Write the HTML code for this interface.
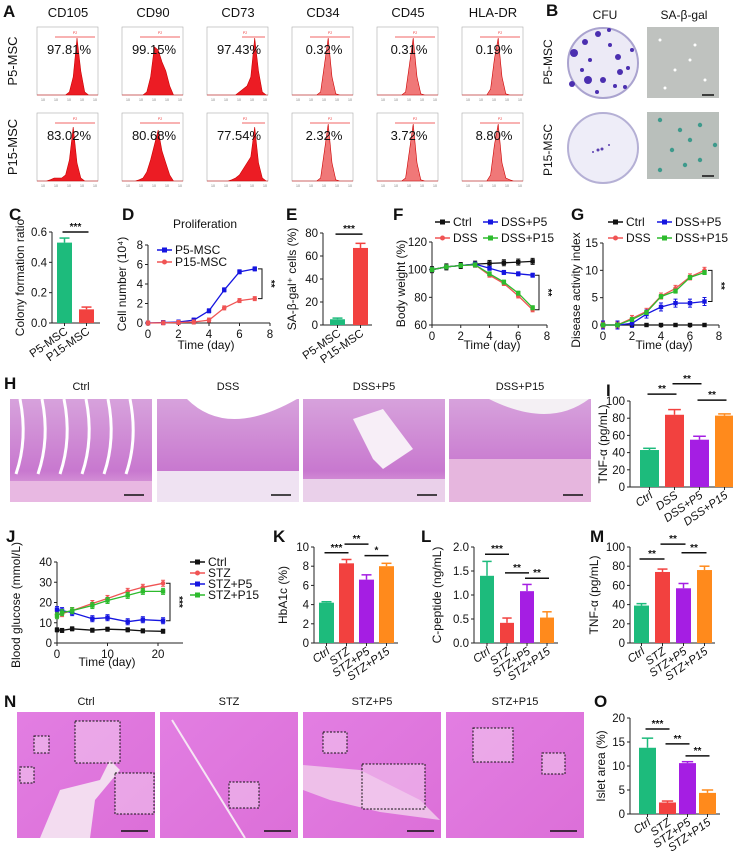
<!DOCTYPE html>
<html><head><meta charset="utf-8"><style>
html,body{margin:0;padding:0;background:#fff;width:733px;height:859px;overflow:hidden}
svg{display:block;font-family:"Liberation Sans",sans-serif}
</style></head><body>
<svg id="fig" width="733" height="859" viewBox="0 0 733 859" xmlns="http://www.w3.org/2000/svg">
<defs>
<linearGradient id="hgr" x1="0" y1="0" x2="0" y2="1"><stop offset="0" stop-color="#d7a2dc"/><stop offset="0.7" stop-color="#c878cf"/><stop offset="1" stop-color="#e7b8e2"/></linearGradient>
<linearGradient id="ngr" x1="0" y1="0" x2="1" y2="1"><stop offset="0" stop-color="#e27ee2"/><stop offset="1" stop-color="#dc6fd8"/></linearGradient>
</defs>
</svg>
<script>
// ---------- data ----------
const flowMarkers = ['CD105','CD90','CD73','CD34','CD45','HLA-DR'];
const flowP5 = ['97.81%','99.15%','97.43%','0.32%','0.31%','0.19%'];
const flowP15 = ['83.02%','80.68%','77.54%','2.32%','3.72%','8.80%'];
const histP5 = [
 [0,0,0,0,0,0,0,0,0.05,0.3,0.95,0.4,0.05,0,0,0],
 [0,0,0,0,0,0,0.05,0.3,0.8,0.75,0.55,0.4,0.15,0,0,0],
 [0,0,0,0,0,0,0,0,0.05,0.1,0.15,0.3,0.95,0.4,0.05,0],
 [0,0,0,0,0,0,0,0.05,0.5,0.95,0.3,0.02,0,0,0,0],
 [0,0,0,0,0,0,0,0.05,0.5,0.95,0.3,0.02,0,0,0,0],
 [0,0,0,0,0,0,0,0.1,0.6,0.95,0.3,0.02,0,0,0,0]];
const histP15 = [
 [0,0,0,0.02,0.05,0.05,0.05,0.1,0.35,0.9,0.3,0.05,0,0,0,0],
 [0,0,0,0,0.02,0.05,0.15,0.35,0.6,0.85,0.5,0.3,0.1,0,0,0],
 [0,0,0,0,0,0,0.02,0.05,0.1,0.2,0.3,0.4,0.9,0.3,0.05,0],
 [0,0,0,0,0,0,0,0.05,0.5,0.95,0.3,0.02,0,0,0,0],
 [0,0,0,0,0,0,0,0.05,0.5,0.95,0.3,0.02,0,0,0,0],
 [0,0,0,0,0,0,0,0.1,0.6,0.95,0.3,0.05,0.02,0,0,0]];

const cLabels = ['P5-MSC','P15-MSC'];
const cValues = [0.53,0.09];
const cErrs = [0.03,0.015];
const cTicks = [0,0.2,0.4,0.6];

const eValues = [5,67];
const eErrs = [1,4];
const eTicks = [0,20,40,60,80];

const dDays = [0,1,2,3,4,5,6,7];
const dP5 = [0,0.05,0.1,0.3,1.25,3.4,5.25,5.55];
const dP15 = [0,0.02,0.05,0.1,0.3,1.55,2.3,2.5];
const dTicksY = [0,2,4,6,8];
const dTicksX = [0,2,4,6,8];

const fDays = [0,1,2,3,4,5,6,7];
const fCtrl = [100,102,103,104,104.5,105,105.5,106];
const fDSS = [100,102,103,103.5,96,90,81,71];
const fP5 = [100,102,103,104,101,98,97,96];
const fP15 = [100,102,103,103.5,97,91,83,72.5];
const fTicksY = [60,80,100,120];

const gDays = [0,1,2,3,4,5,6,7];
const gCtrl = [0,0,0,0,0,0,0,0];
const gDSS = [0,0,1.2,2.5,5.3,6.7,8.8,10];
const gP5 = [0,0,0.3,2,3.3,4,4,4.3];
const gP15 = [0,0,1,2.3,5.2,6.2,8.7,9.6];
const gTicksY = [0,5,10,15];

const dssLabels = ['Ctrl','DSS','DSS+P5','DSS+P15'];
const iValues = [43,84,55,83];
const iErrs = [2,6,4,2];
const tnfTicks = [0,20,40,60,80,100];

const jDays = [0,1,3,7,10,14,17,21];
const jCtrl = [6.5,6.2,7,6.3,6.8,6.5,6,5.8];
const jSTZ = [14,14.5,16,19.5,22,25.5,27.5,29.5];
const jP5 = [16.5,16,15,12,12.5,10.5,11.5,11];
const jP15 = [13.5,15,16,18.5,21,23.5,25.5,25.5];
const jTicksY = [0,10,20,30,40];
const jTicksX = [0,10,20];

const stzLabels = ['Ctrl','STZ','STZ+P5','STZ+P15'];
const kValues = [4.2,8.3,6.6,8.0];
const kErrs = [0.1,0.4,0.5,0.3];
const kTicks = [0,2,4,6,8,10];
const lValues = [1.4,0.42,1.08,0.53];
const lErrs = [0.3,0.1,0.14,0.12];
const lTicks = [0,0.5,1.0,1.5,2.0];
const mValues = [39,74,57,76];
const mErrs = [2,3,5,4];
const oValues = [13.8,2.4,10.6,4.4];
const oErrs = [2,0.3,0.3,0.6];
const oTicks = [0,5,10,15,20];

// ---------- helpers ----------
const NS='http://www.w3.org/2000/svg';
const svg=document.getElementById('fig');
const GREEN='#1dbb7c',RED='#f2413f',PURPLE='#a51ee3',ORANGE='#ff8a1c',BLUE='#1515e0',LGREEN='#2dbb2d',LRED='#f05454';
function mk(tag,attrs,parent){const e=document.createElementNS(NS,tag);for(const k in attrs)e.setAttribute(k,attrs[k]);(parent||svg).appendChild(e);return e;}
function txt(x,y,s,size,attrs,parent){const a=Object.assign({x:x,y:y,'font-size':size,fill:'#111'},attrs||{});const t=mk('text',a,parent);t.textContent=s;return t;}
function group(name){const g=mk('g',{});

return g;}
function panelLetter(g,ch,x,y){const t=txt(x,y,ch,17,{'font-weight':'bold'},g);

}
function fmt(v){return (Math.round(v*10)/10).toString();}

function yAxis(g,ax,yTop,yBot,min,max,ticks,dec){
  const Y=v=>yBot-(v-min)/(max-min)*(yBot-yTop);
  const l=mk('line',{x1:ax,y1:Y(ticks[ticks.length-1]),x2:ax,y2:yBot,stroke:'#222','stroke-width':1},g);
  
  
  ticks.forEach(v=>{
    mk('line',{x1:ax-3,y1:Y(v),x2:ax,y2:Y(v),stroke:'#222'},g);
    const t=txt(ax-5,Y(v)+4,dec!==undefined?v.toFixed(dec):String(v),11.5,{'text-anchor':'end'},g);
    
    
  });
  return Y;
}
function yTitle(g,x,y,s){const t=txt(x,y,s,12,{'text-anchor':'middle',transform:'rotate(-90 '+x+' '+y+')'},g);


return t;}

function barChart(name,cfg){
  const g=group(name);
  panelLetter(g,cfg.letter,cfg.lx,cfg.ly);
  const Y=yAxis(g,cfg.ax,cfg.yTop,cfg.yBot,cfg.min,cfg.max,cfg.ticks,cfg.dec);
  const xa=mk('line',{x1:cfg.ax,y1:cfg.yBot,x2:cfg.axEnd,y2:cfg.yBot,stroke:'#222'},g);
  
  
  yTitle(g,cfg.ytx,(cfg.yTop+cfg.yBot)/2,cfg.ytitle);
  cfg.values.forEach((v,i)=>{
    const cx=cfg.c0+i*cfg.step, col=cfg.colors[i];
    const r=mk('rect',{x:cx-cfg.bw/2,y:Y(v),width:cfg.bw,height:cfg.yBot-Y(v),fill:col},g);
    
    
    const e=Y(v+cfg.errs[i]);
    mk('line',{x1:cx,y1:Y(v),x2:cx,y2:e,stroke:col,'stroke-width':1.5},g);
    mk('line',{x1:cx-cfg.bw/3,y1:e,x2:cx+cfg.bw/3,y2:e,stroke:col,'stroke-width':1.5},g);
    mk('line',{x1:cx,y1:cfg.yBot,x2:cx,y2:cfg.yBot+3,stroke:'#222'},g);
    const lx=cx+4, ly=cfg.yBot+10;
    const t=txt(lx,ly,cfg.labels[i],11.5,{'text-anchor':'end',transform:'rotate(-35 '+lx+' '+ly+')','font-style':cfg.italic?'italic':'normal'},g);
    
    
  });
  (cfg.sigs||[]).forEach(s=>{
    const x1=cfg.c0+s[0]*cfg.step-2,x2=cfg.c0+s[1]*cfg.step+2,yy=Y(s[2]);
    const l=mk('line',{x1:x1,y1:yy,x2:x2,y2:yy,stroke:'#111','stroke-width':1.5},g);
    
    
    txt((x1+x2)/2,yy-2,s[3],10,{'text-anchor':'middle','font-weight':'bold'},g);
  });
}

function lineChart(name,cfg){
  const g=group(name);
  panelLetter(g,cfg.letter,cfg.lx,cfg.ly);
  const Y=yAxis(g,cfg.ax,cfg.yTop,cfg.yBot,cfg.ymin,cfg.ymax,cfg.yticks);
  const X=v=>cfg.ax+(v-cfg.xmin)/(cfg.xmax-cfg.xmin)*(cfg.axEnd-cfg.ax);
  const xa=mk('line',{x1:cfg.ax,y1:cfg.yBot,x2:cfg.xEndPx||cfg.axEnd,y2:cfg.yBot,stroke:'#222'},g);
  
  
  cfg.xticks.forEach(v=>{
    mk('line',{x1:X(v),y1:cfg.yBot,x2:X(v),y2:cfg.yBot+3,stroke:'#222'},g);
    const t=txt(X(v),cfg.yBot+15,String(v),11.5,{'text-anchor':'middle'},g);
    
    
  });
  const xt=txt(cfg.xtx,cfg.xty,'Time (day)',12,{'text-anchor':'middle'},g);
  
  
  yTitle(g,cfg.ytx,cfg.yty||(cfg.yTop+cfg.yBot)/2,cfg.ytitle);
  cfg.series.forEach(s=>{
    const pts=cfg.xs.map((d,i)=>X(d).toFixed(1)+','+Y(s.vals[i]).toFixed(1)).join(' ');
    const pl=mk('polyline',{points:pts,fill:'none',stroke:s.color,'stroke-width':1.3},g);
    
    
    cfg.xs.forEach((d,i)=>{
      const px=X(d),py=Y(s.vals[i]),er=(s.err||0);
      if(er){mk('line',{x1:px,y1:py-er,x2:px,y2:py+er,stroke:s.color},g);
        mk('line',{x1:px-2,y1:py-er,x2:px+2,y2:py-er,stroke:s.color},g);
        mk('line',{x1:px-2,y1:py+er,x2:px+2,y2:py+er,stroke:s.color},g);}
      const m=s.shape==='circle'?mk('circle',{cx:px,cy:py,r:2.3,fill:s.color},g):mk('rect',{x:px-2.2,y:py-2.2,width:4.4,height:4.4,fill:s.color},g);
      
      
    });
  });
  cfg.legend.forEach(L=>{
    mk('line',{x1:L[0],y1:L[1],x2:L[0]+15,y2:L[1],stroke:L[3],'stroke-width':1.5},g);
    if(L[4]==='circle')mk('circle',{cx:L[0]+7.5,cy:L[1],r:2.5,fill:L[3]},g);else mk('rect',{x:L[0]+5,y:L[1]-2.5,width:5,height:5,fill:L[3]},g);
    const t=txt(L[0]+18,L[1]+4,L[2],12,{},g);
    
    
  });
  if(cfg.bracket){const b=cfg.bracket,y1=Y(b[1]),y2=Y(b[2]);
    const p=mk('path',{d:'M'+(b[0]-4)+' '+y1+'H'+b[0]+'V'+y2+'H'+(b[0]-4),fill:'none',stroke:'#111'},g);
    
    
    const sx=b[0]+6,sy=(y1+y2)/2;
    txt(sx,sy,b[3],10,{'text-anchor':'middle','font-weight':'bold',transform:'rotate(90 '+sx+' '+sy+')'},g);}
}

// ---------- Panel A ----------
(function(){
  const g=group('panel-a-flow-cytometry');
  panelLetter(g,'A',3,17);
  [['P5-MSC',61],['P15-MSC',147]].forEach(r=>{const t=txt(17,r[1],r[0],13,{'text-anchor':'middle',transform:'rotate(-90 17 '+r[1]+')'},g);
    
    });
  flowMarkers.forEach((mName,c)=>{
    const bx=37+c*85;
    const t=txt(bx+31,17,mName,13,{'text-anchor':'middle'},g);
    
    
    [[27,histP5[c],flowP5[c]],[113,histP15[c],flowP15[c]]].forEach(row=>{
      const by=row[0],w=61,h=68;
      mk('rect',{x:bx,y:by,width:w,height:h,fill:'#fff',stroke:'#aaa','stroke-width':0.6},g);
      const hist=row[1];const n=hist.length;
      let d='M'+bx+' '+(by+h);
      hist.forEach((v,i)=>{d+=' L'+(bx+(i+0.5)*w/n).toFixed(1)+' '+(by+h-v*(h-8)).toFixed(1);});
      d+=' L'+(bx+w)+' '+(by+h)+'Z';
      const p=mk('path',{d:d,fill:c>=3?'#f07878':'#ec1c24',stroke:'#c00','stroke-width':0.6},g);
      
      
      mk('line',{x1:bx+(c===2?35:18),y1:by+10,x2:bx+58,y2:by+10,stroke:'#e33','stroke-width':0.7},g);
      txt(bx+38,by+7,'P2',3.5,{fill:'#e33','text-anchor':'middle'},g);
      const pt=txt(bx+32,by+27,row[2],13,{'text-anchor':'middle'},g);
      
      
      for(let k=0;k<5;k++)txt(bx+4+k*13,by+h+6,'10',3.5,{fill:'#777'},g);
    });
  });
})();

// ---------- Panel B ----------
(function(){
  const g=group('panel-b-cfu-senescence');
  panelLetter(g,'B',546,16);
  txt(605,19,'CFU',12,{'text-anchor':'middle'},g);
  txt(684,19,'SA-β-gal',12,{'text-anchor':'middle'},g);
  [['P5-MSC',62],['P15-MSC',150]].forEach(r=>{txt(552,r[1],r[0],12,{'text-anchor':'middle',transform:'rotate(-90 552 '+r[1]+')'},g);});
  const d1=mk('circle',{cx:603,cy:63,r:35,fill:'#eceaf6',stroke:'#aaa3cf','stroke-width':2},g);
  
  
  [[598,34,3],[609,30,2],[585,42,3],[574,53,4],[590,60,2],[610,45,2],[618,57,3],[628,68,2],[620,72,3],[588,80,4],[572,84,3],[603,80,3],[615,86,2],[632,50,2],[582,70,2],[597,92,2],[625,87,2]].forEach(p=>mk('circle',{cx:p[0],cy:p[1],r:p[2],fill:'#4b2fb0'},g));
  const d2=mk('circle',{cx:603,cy:148,r:35,fill:'#eeedf8',stroke:'#b5b0d5','stroke-width':2},g);
  
  
  [[598,150,1.5],[602,149,1.5],[593,152,1],[609,145,1]].forEach(p=>mk('circle',{cx:p[0],cy:p[1],r:p[2],fill:'#5b3fb0'},g));
  const i1=mk('rect',{x:647,y:27,width:72,height:71,fill:'#bfc2bf'},g);
  
  
  [[660,40],[695,45],[675,70],[705,80],[665,88],[690,60]].forEach(p=>mk('circle',{cx:p[0],cy:p[1],r:1.5,fill:'#fff'},g));
  mk('line',{x1:702,y1:95,x2:714,y2:95,stroke:'#111','stroke-width':1.5},g);
  const i2=mk('rect',{x:647,y:112,width:72,height:67,fill:'#b9bfbb'},g);
  
  
  [[660,120],[680,130],[690,140],[700,125],[672,150],[700,160],[660,170],[715,145],[685,165]].forEach(p=>mk('circle',{cx:p[0],cy:p[1],r:2.2,fill:'#3e9a8c'},g));
  mk('line',{x1:702,y1:176,x2:714,y2:176,stroke:'#111','stroke-width':1.5},g);
})();

// ---------- Row C-G ----------
barChart('panel-c-colony-formation',{letter:'C',lx:9,ly:220,ax:52,axEnd:100,yTop:232,yBot:323,min:0,max:0.6,ticks:cTicks,dec:1,
  values:cValues,errs:cErrs,colors:[GREEN,RED],c0:64.5,step:22,bw:15,labels:cLabels,ytitle:'Colony formation ratio',ytx:24,sigs:[[0,1,0.6,'***']]});
lineChart('panel-d-proliferation',{letter:'D',lx:122,ly:220,ax:148,axEnd:270,xmin:0,xmax:8,yTop:245,yBot:323,ymin:0,ymax:8,yticks:dTicksY,xticks:dTicksX,
  xs:dDays,series:[{name:'p5-msc',vals:dP5,color:BLUE,shape:'sq',err:2},{name:'p15-msc',vals:dP15,color:LRED,shape:'circle',err:2}],
  legend:[[157,250,'P5-MSC',BLUE,'sq'],[157,262,'P15-MSC',LRED,'circle']],ytitle:'Cell number (10⁴)',ytx:126,xtx:206,xty:349,bracket:[262,5.55,2.5,'**']});
txt(205,228,'Proliferation',12,{'text-anchor':'middle'});
barChart('panel-e-sa-beta-gal',{letter:'E',lx:286,ly:220,ax:323,axEnd:372,yTop:233,yBot:325,min:0,max:80,ticks:eTicks,
  values:eValues,errs:eErrs,colors:[GREEN,RED],c0:337.5,step:23,bw:15,labels:cLabels,ytitle:'SA-β-gal⁺ cells (%)',ytx:296,sigs:[[0,1,79,'***']]});
lineChart('panel-f-body-weight',{letter:'F',lx:393,ly:220,ax:432,axEnd:547,xmin:0,xmax:8,yTop:242,yBot:325,ymin:60,ymax:120,yticks:fTicksY,xticks:dTicksX,
  xs:fDays,series:[{name:'ctrl',vals:fCtrl,color:'#111',shape:'sq',err:3},{name:'dss',vals:fDSS,color:LRED,shape:'circle',err:2},{name:'dss-p5',vals:fP5,color:BLUE,shape:'sq',err:2},{name:'dss-p15',vals:fP15,color:LGREEN,shape:'sq',err:2}],
  legend:[[435,222,'Ctrl','#111','sq'],[483,222,'DSS+P5',BLUE,'sq'],[435,238,'DSS',LRED,'circle'],[483,238,'DSS+P15',LGREEN,'sq']],ytitle:'Body weight (%)',ytx:405,xtx:492,xty:349,bracket:[539,96,71,'**']});
lineChart('panel-g-disease-activity',{letter:'G',lx:571,ly:220,ax:603,axEnd:719,xmin:0,xmax:8,yTop:243,yBot:325,ymin:0,ymax:15,yticks:gTicksY,xticks:dTicksX,
  xs:gDays,series:[{name:'ctrl',vals:gCtrl,color:'#111',shape:'sq',err:0},{name:'dss',vals:gDSS,color:LRED,shape:'circle',err:3},{name:'dss-p5',vals:gP5,color:BLUE,shape:'sq',err:4},{name:'dss-p15',vals:gP15,color:LGREEN,shape:'sq',err:2}],
  legend:[[608,222,'Ctrl','#111','sq'],[657,222,'DSS+P5',BLUE,'sq'],[608,238,'DSS',LRED,'circle'],[657,238,'DSS+P15',LGREEN,'sq']],ytitle:'Disease activity index',ytx:580,yty:290,xtx:664,xty:349,bracket:[712,10,4.3,'**']});

// ---------- Panel H (histology) ----------
(function(){
  const g=group('panel-h-colon-histology');
  panelLetter(g,'H',4,389);
  const xs=[10,157,303,449];
  dssLabels.forEach((lab,i)=>{
    const x=xs[i],w=142,y=399,h=103;
    txt(x+w/2,390,lab,11,{'text-anchor':'middle'},g);
    const r=mk('rect',{x:x,y:y,width:w,height:h,fill:'url(#hgr)'},g);
    
    
    if(i===0){for(let k=0;k<6;k++)mk('path',{d:'M'+(x+10+k*22)+' '+(y)+' q 8 40 -4 75',stroke:'#fff','stroke-width':3,fill:'none'},g);
      mk('rect',{x:x,y:y+82,width:w,height:21,fill:'#e8b8e2'},g);}
    if(i===1){mk('path',{d:'M'+(x+30)+' '+y+' q 40 40 110 0 Z',fill:'#fff'},g);mk('rect',{x:x,y:y+72,width:w,height:31,fill:'#efe2f2'},g);}
    if(i===2){mk('path',{d:'M'+(x+50)+' '+(y+20)+' l 30 -10 l 30 40 l -30 20 l -10 -10 z',fill:'#f7eef7'},g);mk('rect',{x:x,y:y+80,width:w,height:23,fill:'#ead0ea'},g);}
    if(i===3){mk('path',{d:'M'+(x+40)+' '+y+' q 60 30 100 0 Z',fill:'#f4f0f4'},g);mk('rect',{x:x,y:y+60,width:w,height:43,fill:'#e6b6de'},g);}
    mk('line',{x1:x+w-28,y1:y+h-7,x2:x+w-8,y2:y+h-7,stroke:'#111','stroke-width':1.5},g);
  });
})();
barChart('panel-i-tnf-dss',{letter:'I',lx:606,ly:396,ax:630,axEnd:733,yTop:401,yBot:487,min:0,max:100,ticks:tnfTicks,
  values:iValues,errs:iErrs,colors:[GREEN,RED,PURPLE,ORANGE],c0:649.5,step:25,bw:19,labels:dssLabels,italic:true,ytitle:'TNF-α (pg/mL)',ytx:607,sigs:[[0,1,108,'**'],[1,2,120,'**'],[2,3,101,'**']]});

// ---------- Row J-M ----------
lineChart('panel-j-blood-glucose',{letter:'J',lx:6,ly:542,ax:57,axEnd:158,xEndPx:183,xmin:0,xmax:20,yTop:562,yBot:643,ymin:0,ymax:40,yticks:jTicksY,xticks:jTicksX,
  xs:jDays,series:[{name:'ctrl',vals:jCtrl,color:'#111',shape:'sq',err:2},{name:'stz',vals:jSTZ,color:LRED,shape:'circle',err:3},{name:'stz-p5',vals:jP5,color:BLUE,shape:'sq',err:3},{name:'stz-p15',vals:jP15,color:LGREEN,shape:'sq',err:3}],
  legend:[[190,562,'Ctrl','#111','sq'],[190,573,'STZ',LRED,'circle'],[190,584,'STZ+P5',BLUE,'sq'],[190,595,'STZ+P15',LGREEN,'sq']],ytitle:'Blood glucose (mmol/L)',ytx:20,yty:605,xtx:107,xty:666,bracket:[170,29.5,11,'***']});
barChart('panel-k-hba1c',{letter:'K',lx:273,ly:542,ax:314,axEnd:398,yTop:547,yBot:643,min:0,max:10,ticks:kTicks,
  values:kValues,errs:kErrs,colors:[GREEN,RED,PURPLE,ORANGE],c0:326.5,step:20,bw:15,labels:stzLabels,italic:true,ytitle:'HbA1c (%)',ytx:287,sigs:[[0,1,9.4,'***'],[1,2,10.3,'**'],[2,3,9.1,'*']]});
barChart('panel-l-c-peptide',{letter:'L',lx:421,ly:542,ax:474,axEnd:558,yTop:547,yBot:643,min:0,max:2,ticks:lTicks,dec:1,
  values:lValues,errs:lErrs,colors:[GREEN,RED,PURPLE,ORANGE],c0:487,step:20,bw:14,labels:stzLabels,italic:true,ytitle:'C-peptide (ng/mL)',ytx:441,sigs:[[0,1,1.85,'***'],[1,2,1.46,'**'],[2,3,1.35,'**']]});
barChart('panel-m-tnf-stz',{letter:'M',lx:590,ly:542,ax:630,axEnd:715,yTop:547,yBot:643,min:0,max:100,ticks:tnfTicks,
  values:mValues,errs:mErrs,colors:[GREEN,RED,PURPLE,ORANGE],c0:641.5,step:21,bw:15,labels:stzLabels,italic:true,ytitle:'TNF-α (pg/mL)',ytx:598,sigs:[[0,1,87.5,'**'],[1,2,103,'**'],[2,3,94,'**']]});

// ---------- Panel N ----------
(function(){
  const g=group('panel-n-pancreas-histology');
  panelLetter(g,'N',4,707);
  const xs=[17,160,303,446];
  const boxes=[[[75,721,45,42],[34,736,15,17],[20,767,14,16],[115,773,39,41]],[[229,782,30,26]],[[323,732,24,21],[362,764,63,45]],[[473,728,40,34],[542,753,23,21]]];
  stzLabels.forEach((lab,i)=>{
    const x=xs[i],w=138,y=712,h=126;
    txt(x+w/2,705,lab,11,{'text-anchor':'middle'},g);
    const r=mk('rect',{x:x,y:y,width:w,height:h,fill:'url(#ngr)'},g);
    
    
    if(i===0){mk('path',{d:'M40 838 L60 790 L100 780 L110 760 L120 770 L95 800 L90 838 Z',fill:'#f3dcf0'},g);}
    if(i===1){mk('line',{x1:172,y1:720,x2:245,y2:838,stroke:'#f6e6f4','stroke-width':2},g);}
    if(i===2){mk('path',{d:'M303 765 L360 770 L420 800 L440 820 L380 812 L330 800 L303 790Z',fill:'#eebfe9'},g);}
    boxes[i].forEach(b=>{
      mk('rect',{x:b[0],y:b[1],width:b[2],height:b[3],fill:'#f2c6ee',opacity:0.6},g);
      const bb=mk('rect',{x:b[0],y:b[1],width:b[2],height:b[3],fill:'none',stroke:'#111','stroke-width':1,'stroke-dasharray':'2,1.5'},g);
      
      
    });
    mk('line',{x1:x+w-34,y1:y+h-7,x2:x+w-7,y2:y+h-7,stroke:'#111','stroke-width':1.5},g);
  });
})();
barChart('panel-o-islet-area',{letter:'O',lx:594,ly:707,ax:630,axEnd:720,yTop:718,yBot:814,min:0,max:20,ticks:oTicks,
  values:oValues,errs:oErrs,colors:[GREEN,RED,PURPLE,ORANGE],c0:647.5,step:20,bw:17,labels:stzLabels,italic:true,ytitle:'Islet area (%)',ytx:605,sigs:[[0,1,17.7,'***'],[1,2,14.6,'**'],[2,3,12.1,'**']]});
</script>
</body></html>
